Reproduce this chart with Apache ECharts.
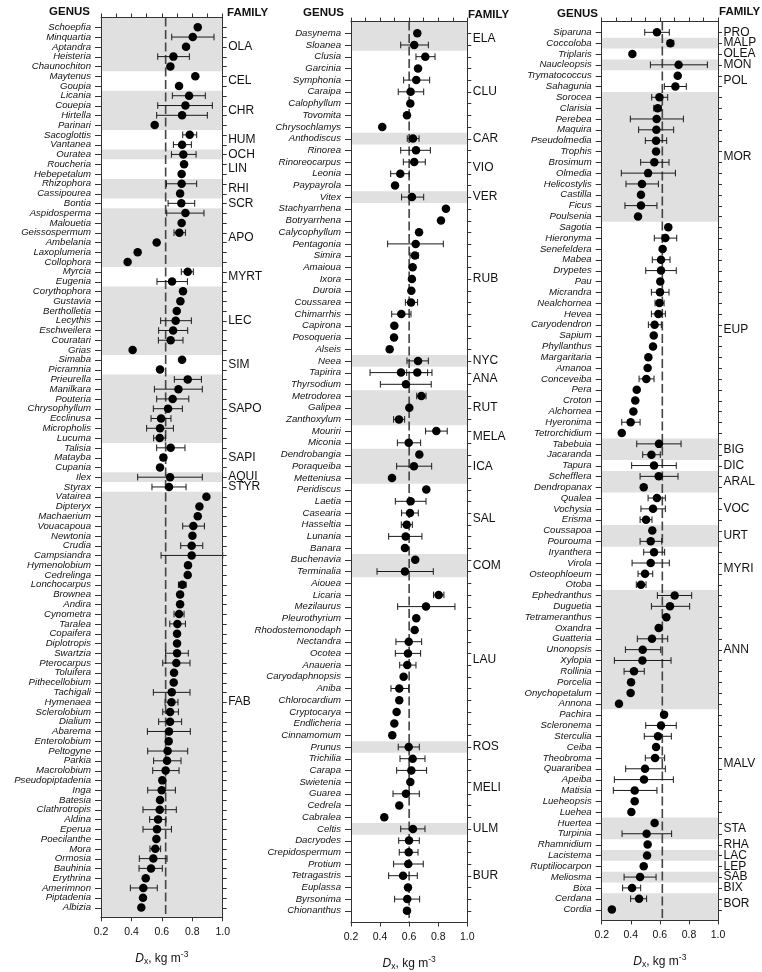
<!DOCTYPE html>
<html><head><meta charset="utf-8">
<script src="https://cdn.jsdelivr.net/npm/echarts/dist/echarts.min.js"></script>
<style>html,body{margin:0;padding:0;background:#fff}#c{width:762px;height:972px}</style>
</head><body><div id="c"></div>
<script>
// ---------------- Panel 1 ----------------
const genus1 = ['Schoepfia','Minquartia','Aptandra','Heisteria','Chaunochiton','Maytenus','Goupia','Licania','Couepia','Hirtella',
'Parinari','Sacoglottis','Vantanea','Ouratea','Roucheria','Hebepetalum','Rhizophora','Cassipourea','Bontia','Aspidosperma',
'Malouetia','Geissospermum','Ambelania','Laxoplumeria','Collophora','Myrcia','Eugenia','Corythophora','Gustavia','Bertholletia',
'Lecythis','Eschweilera','Couratari','Grias','Simaba','Picramnia','Prieurella','Manilkara','Pouteria','Chrysophyllum',
'Ecclinusa','Micropholis','Lucuma','Talisia','Matayba','Cupania','Ilex','Styrax','Vatairea','Dipteryx',
'Machaerium','Vouacapoua','Newtonia','Crudia','Campsiandra','Hymenolobium','Cedrelinga','Lonchocarpus','Brownea','Andira',
'Cynometra','Taralea','Copaifera','Diplotropis','Swartzia','Pterocarpus','Toluifera','Pithecellobium','Tachigali','Hymenaea',
'Sclerolobium','Dialium','Abarema','Enterolobium','Peltogyne','Parkia','Macrolobium','Pseudopiptadenia','Inga','Batesia',
'Clathrotropis','Aldina','Eperua','Poecilanthe','Mora','Ormosia','Bauhinia','Erythrina','Amerimnon','Piptadenia','Albizia'];
const dx1 = [0.836,0.803,0.759,0.676,0.656,0.820,0.713,0.779,0.755,0.733,
0.553,0.783,0.733,0.741,0.746,0.730,0.730,0.720,0.728,0.755,
0.730,0.715,0.566,0.441,0.375,0.770,0.667,0.739,0.722,0.698,
0.691,0.674,0.658,0.408,0.733,0.588,0.770,0.709,0.671,0.641,
0.595,0.588,0.586,0.658,0.610,0.588,0.654,0.647,0.893,0.847,
0.836,0.807,0.801,0.796,0.796,0.772,0.770,0.735,0.720,0.720,
0.713,0.702,0.700,0.700,0.700,0.695,0.680,0.678,0.665,0.663,
0.654,0.654,0.647,0.645,0.638,0.634,0.625,0.603,0.599,0.588,
0.586,0.575,0.568,0.564,0.557,0.544,0.529,0.494,0.478,0.476,0.465];
const lo1 = [null,0.665,null,0.573,null,null,null,0.669,0.573,0.566,
null,0.737,0.676,0.663,null,null,0.630,null,0.641,0.632,
null,0.680,null,null,null,0.728,0.568,null,null,null,
0.592,0.579,0.577,null,null,null,0.682,0.551,0.566,0.544,
0.529,0.500,0.546,0.566,0.592,null,0.441,0.535,null,null,
null,0.737,null,0.724,0.595,null,null,0.709,null,null,
0.680,0.652,null,null,0.625,0.606,null,null,0.544,0.621,
0.606,0.579,0.505,null,0.507,0.546,0.540,null,0.507,null,
0.476,0.520,0.476,null,0.522,0.452,0.450,null,0.393,null,null];
const hi1 = [null,0.943,null,0.781,null,null,null,0.886,0.932,0.899,
null,0.829,0.794,0.825,null,null,0.829,null,0.816,0.877,
null,0.755,null,null,null,0.807,0.768,null,null,null,
0.794,0.770,0.739,null,null,null,0.860,0.866,0.777,0.735,
0.660,0.676,0.623,0.752,0.627,null,0.866,0.759,null,null,
null,0.880,null,0.869,1.0,null,null,0.759,null,null,
0.746,0.755,null,null,0.774,0.785,null,null,0.785,0.706,
0.709,0.730,0.787,null,0.770,0.726,0.713,null,0.689,null,
0.695,0.627,0.663,null,0.592,0.634,0.603,null,0.570,null,null];
const fam1 = ['OLA','CEL','CHR','HUM','OCH','LIN','RHI','SCR','APO','MYRT','LEC','SIM','SAPO','SAPI','AQUI','STYR','FAB'];
const famSize1 = [5,2,4,2,1,2,2,1,6,2,7,2,7,3,1,1,43];

// ---------------- Panel 2 ----------------
const genus2 = ['Dasynema','Sloanea','Clusia','Garcinia','Symphonia','Caraipa','Calophyllum','Tovomita','Chrysochlamys','Anthodiscus',
'Rinorea','Rinoreocarpus','Leonia','Paypayrola','Vitex','Stachyarrhena','Botryarrhena','Calycophyllum','Pentagonia','Simira',
'Amaioua','Ixora','Duroia','Coussarea','Chimarrhis','Capirona','Posoqueria','Alseis','Neea','Tapirira',
'Thyrsodium','Metrodorea','Galipea','Zanthoxylum','Mouriri','Miconia','Dendrobangia','Poraqueiba','Metteniusa','Peridiscus',
'Laetia','Casearia','Hasseltia','Lunania','Banara','Buchenavia','Terminalia','Aiouea','Licaria','Mezilaurus',
'Pleurothyrium','Rhodostemonodaph','Nectandra','Ocotea','Anaueria','Caryodaphnopsis','Aniba','Chlorocardium','Cryptocarya','Endlicheria',
'Cinnamomum','Prunus','Trichilia','Carapa','Swietenia','Guarea','Cedrela','Cabralea','Celtis','Dacryodes',
'Crepidospermum','Protium','Tetragastris','Euplassa','Byrsonima','Chionanthus'];
const dx2 = [0.656,0.635,0.711,0.661,0.649,0.610,0.608,0.585,0.415,0.626,
0.647,0.635,0.539,0.503,0.619,0.853,0.819,0.668,0.645,0.640,
0.624,0.619,0.615,0.613,0.546,0.498,0.496,0.466,0.661,0.544,
0.578,0.684,0.601,0.530,0.787,0.597,0.670,0.633,0.482,0.718,
0.610,0.606,0.583,0.576,0.571,0.642,0.571,null,0.803,0.716,
0.649,0.638,0.597,0.592,0.587,0.562,0.532,0.532,0.514,0.498,
0.484,0.597,0.624,0.615,0.608,0.578,0.532,0.429,0.626,0.599,
0.597,0.594,0.558,0.592,0.587,0.585];
const lo2 = [null,0.542,0.647,null,0.562,0.525,null,null,null,0.587,
0.542,0.560,0.473,null,0.548,null,null,null,0.452,0.606,
null,null,null,0.574,0.480,null,null,null,0.585,0.331,
0.402,0.652,null,0.493,0.713,0.519,null,0.514,null,null,
0.505,0.548,0.546,0.459,null,null,0.379,null,0.768,0.521,
null,null,0.509,0.505,0.535,null,0.475,null,null,null,
null,0.525,0.537,0.514,null,0.489,null,null,0.542,0.528,
0.532,0.493,0.459,null,0.500,null];
const hi2 = [null,0.732,0.778,null,0.741,0.700,null,null,null,0.668,
0.746,0.711,0.601,null,0.700,null,null,null,0.835,0.663,
null,null,null,0.658,0.613,null,null,null,0.732,0.757,
0.752,0.716,null,0.569,0.862,0.679,null,0.755,null,null,
0.716,0.663,0.622,0.688,null,null,0.766,null,0.839,0.915,
null,null,0.686,0.679,0.647,null,0.597,null,null,null,
null,0.670,0.709,0.720,null,0.670,null,null,0.709,0.670,
0.661,0.697,0.656,null,0.672,null];
// second estimate plotted on the Tapirira row
const extraGenus2 = ['Tapirira'];
const extraDx2 = [0.656];
const extraLo2 = [0.583];
const extraHi2 = [0.727];
const fam2 = ['ELA','CLU','CAR','VIO','VER','RUB','NYC','ANA','RUT','MELA','ICA','SAL','COM','LAU','ROS','MELI','ULM','BUR'];
const famSize2 = [2,7,1,4,1,13,1,2,3,2,3,6,2,14,1,6,1,7];

// ---------------- Panel 3 ----------------
const genus3 = ['Siparuna','Coccoloba','Triplaris','Naucleopsis','Trymatococcus','Sahagunia','Sorocea','Clarisia','Perebea','Maquira',
'Pseudolmedia','Trophis','Brosimum','Olmedia','Helicostylis','Castilla','Ficus','Poulsenia','Sagotia','Hieronyma',
'Senefeldera','Mabea','Drypetes','Pau','Micrandra','Nealchornea','Hevea','Caryodendron','Sapium','Phyllanthus',
'Margaritaria','Amanoa','Conceveiba','Pera','Croton','Alchornea','Hyeronima','Tetrorchidium','Tabebuia','Jacaranda',
'Tapura','Schefflera','Dendropanax','Qualea','Vochysia','Erisma','Coussapoa','Pourouma','Iryanthera','Virola',
'Osteophloeum','Otoba','Ephedranthus','Duguetia','Tetrameranthus','Oxandra','Guatteria','Unonopsis','Xylopia','Rollinia',
'Porcelia','Onychopetalum','Annona','Pachira','Scleronema','Sterculia','Ceiba','Theobroma','Quararibea','Apeiba',
'Matisia','Lueheopsis','Luehea','Huertea','Turpinia','Rhamnidium','Lacistema','Ruptiliocarpon','Meliosma','Bixa',
'Cerdana','Cordia'];
const dx3 = [0.580,0.672,0.411,0.729,0.723,0.707,0.597,0.585,0.578,0.576,
0.574,0.574,0.562,0.519,0.477,0.470,0.470,0.450,0.658,0.638,
0.619,0.608,0.608,0.603,0.601,0.597,0.590,0.564,0.558,0.553,
0.521,0.516,0.507,0.441,0.431,0.418,0.399,0.338,0.594,0.542,
0.560,0.592,0.489,0.580,0.553,0.505,0.548,0.537,0.560,0.537,
0.498,0.470,0.702,0.670,0.645,0.592,0.546,0.482,0.480,0.422,
0.402,0.399,0.319,0.629,0.608,0.587,0.574,0.567,0.498,0.491,
0.427,0.427,0.404,0.564,0.509,0.516,0.512,0.489,0.464,0.409,
0.457,0.270];
const lo3 = [0.496,0.652,null,0.535,null,0.631,0.544,0.558,0.397,0.454,
0.500,null,0.468,0.335,0.367,null,0.360,null,null,0.562,
null,0.548,0.503,null,0.542,0.567,0.542,0.521,null,null,
null,null,0.457,null,null,null,0.338,null,0.441,0.482,
0.406,0.464,null,0.519,0.470,0.464,null,0.464,0.489,0.409,
0.450,0.438,0.583,0.542,null,0.578,0.445,0.363,0.287,0.354,
null,null,null,null,0.503,0.493,null,0.500,0.365,0.287,
0.280,null,null,null,0.340,null,null,null,0.354,0.344,
0.399,null];
const hi3 = [0.665,0.695,null,0.927,null,0.782,0.654,0.610,0.762,0.695,
0.647,null,0.663,0.707,0.590,null,0.580,null,null,0.716,
null,0.670,0.713,null,0.663,0.629,0.638,0.610,null,null,
null,null,0.560,null,null,null,0.464,null,0.746,0.603,
0.713,0.725,null,0.638,0.638,0.546,null,0.613,0.633,0.665,
0.551,0.505,0.819,0.805,null,0.610,0.654,0.606,0.677,0.493,
null,null,null,null,0.713,0.679,null,0.633,0.638,0.693,
0.580,null,null,null,0.681,null,null,null,0.574,0.468,
0.509,null];
const fam3 = ['PRO','MALP','OLEA','MON','POL','MOR','EUP','BIG','DIC','ARAL','VOC','URT','MYRI','ANN','MALV','STA','RHA','LAC','LEP','SAB','BIX','BOR'];
const famSize3 = [1,1,1,1,2,12,20,2,1,2,3,2,4,11,10,2,1,1,1,1,1,2];

// overall mean density (dashed line) per panel
const refLine = [0.625, 0.600, 0.617];
const xTicks = [0.2, 0.4, 0.6, 0.8, 1.0];

// ---------------- layout / styling ----------------
const FONT = '"Liberation Sans", Arial, Helvetica, sans-serif';
const INK = '#111';
const FRAME = '#333';
const SHADE = '#e0e0e0';

const panels = [
  {genus: genus1, dx: dx1, lo: lo1, hi: hi1, fam: fam1, famSize: famSize1, firstShaded: true, extra: null,
   box: {left: 101, top: 17.5, width: 121.7, height: 899.8}, genusHdr: [90, 11.7], famHdr: [227, 13.3]},
  {genus: genus2, dx: dx2, lo: lo2, hi: hi2, fam: fam2, famSize: famSize2, firstShaded: true,
   extra: {genus: extraGenus2, dx: extraDx2, lo: extraLo2, hi: extraHi2},
   box: {left: 351, top: 21.6, width: 116.3, height: 900.9}, genusHdr: [344, 12.7], famHdr: [468, 15]},
  {genus: genus3, dx: dx3, lo: lo3, hi: hi3, fam: fam3, famSize: famSize3, firstShaded: false, extra: null,
   box: {left: 601.7, top: 21.5, width: 116.3, height: 898.9}, genusHdr: [598, 14.3], famHdr: [719, 11.7]}
];

const XMIN = 0.2, XMAX = 1.0;

const grid = [], xAxis = [], yAxis = [], series = [], graphics = [];

panels.forEach((p, i) => {
  const N = p.genus.length;
  grid.push(Object.assign({containLabel: false, outerBoundsMode: 'none'}, p.box));

  xAxis.push({
    type: 'value', gridIndex: i, position: 'bottom', min: XMIN, max: XMAX, interval: 0.2, z: 10,
    axisLine: {show: true, onZero: false, lineStyle: {color: FRAME, width: 1}},
    axisTick: {show: true, length: 4, lineStyle: {color: FRAME}},
    axisLabel: {show: true, color: INK, fontSize: 10.5, fontFamily: FONT, margin: 9,
      formatter: v => (xTicks.some(t => Math.abs(t - v) < 1e-6) ? v.toFixed(1) : '')},
    splitLine: {show: false},
    name: '{i|D}{s|x}{n|, kg m}{p|-3}', nameLocation: 'middle', nameGap: 33,
    nameTextStyle: {rich: {
      i: {fontStyle: 'italic', fontSize: 12, color: INK, fontFamily: FONT, lineHeight: 16},
      n: {fontSize: 12, color: INK, fontFamily: FONT, lineHeight: 16},
      s: {fontSize: 8.5, color: INK, fontFamily: FONT, lineHeight: 8, verticalAlign: 'bottom'},
      p: {fontSize: 8.5, color: INK, fontFamily: FONT, lineHeight: 8, verticalAlign: 'top'}
    }}
  });
  xAxis.push({
    type: 'value', gridIndex: i, position: 'top', min: XMIN, max: XMAX, interval: 0.1, z: 10,
    axisLine: {show: true, onZero: false, lineStyle: {color: FRAME, width: 1}},
    axisTick: {show: true, length: 4, lineStyle: {color: FRAME}},
    axisLabel: {show: false}, splitLine: {show: false}
  });

  yAxis.push({
    type: 'value', gridIndex: i, position: 'left', inverse: true, min: -1, max: N, interval: 1, z: 10,
    axisLine: {show: true, onZero: false, lineStyle: {color: FRAME, width: 1}},
    axisTick: {show: false}, splitLine: {show: false},
    axisLabel: {show: true, color: INK, fontSize: 9.6, fontStyle: 'italic', fontFamily: FONT, margin: 10,
      formatter: v => { const k = Math.round(v); return (k >= 0 && k < N) ? p.genus[k] : ''; }}
  });
  yAxis.push({
    type: 'value', gridIndex: i, position: 'right', inverse: true, min: -1, max: N, interval: 1, z: 10,
    axisLine: {show: true, onZero: false, lineStyle: {color: FRAME, width: 1}},
    axisTick: {show: false}, axisLabel: {show: false}, splitLine: {show: false}
  });

  const xi = 2 * i, yi = 2 * i;
  const starts = [];
  let acc = 0;
  p.famSize.forEach(s => { starts.push(acc); acc += s; });
  const lastFam = p.fam.length - 1;

  series.push({
    type: 'custom', xAxisIndex: xi, yAxisIndex: yi, z: 1, clip: false, silent: true,
    data: p.fam.map((f, j) => [XMIN, j]),
    renderItem: (params, api) => {
      const j = api.value(1);
      const s = starts[j], e = starts[j] + p.famSize[j] - 1;
      const yA = api.coord([XMIN, j === 0 ? -1 : s - 0.5])[1];
      const yB = api.coord([XMIN, j === lastFam ? N : e + 0.5])[1];
      const xL = api.coord([XMIN, 0])[0], xR = api.coord([XMAX, 0])[0];
      const yc = (api.coord([XMIN, s])[1] + api.coord([XMIN, e])[1]) / 2;
      const shaded = ((j % 2) === 0) === p.firstShaded;
      const children = [];
      if (shaded) children.push({type: 'rect', shape: {x: xL, y: Math.min(yA, yB), width: xR - xL, height: Math.abs(yB - yA)},
        style: {fill: SHADE}});
      children.push({type: 'text', style: {text: p.fam[j], x: xR + 5.5, y: yc, align: 'left', verticalAlign: 'middle',
        fontSize: 12, fontFamily: FONT, fill: INK}});
      return {type: 'group', children};
    }
  });

  series.push({
    type: 'custom', xAxisIndex: xi, yAxisIndex: yi, z: 2, clip: false, silent: true,
    data: p.genus.map((g, r) => [XMIN, r]),
    renderItem: (params, api) => {
      const r = api.value(1);
      const a = api.coord([XMIN, r]), b = api.coord([XMAX, r]);
      const y = Math.round(a[1]) + 0.5;
      return {type: 'group', children: [
        {type: 'line', shape: {x1: a[0] - 6, y1: y, x2: a[0], y2: y}, style: {stroke: FRAME, lineWidth: 1}},
        {type: 'line', shape: {x1: b[0], y1: y, x2: b[0] + 4, y2: y}, style: {stroke: FRAME, lineWidth: 1}}
      ]};
    }
  });

  series.push({
    type: 'custom', xAxisIndex: xi, yAxisIndex: yi, z: 2, clip: false, silent: true,
    data: [[refLine[i], -1, N]],
    renderItem: (params, api) => {
      const a = api.coord([api.value(0), api.value(1)]);
      const b = api.coord([api.value(0), api.value(2)]);
      return {type: 'line', shape: {x1: a[0], y1: a[1], x2: b[0], y2: b[1]},
        style: {stroke: '#444', lineWidth: 1.6, lineDash: [9, 3.5]}};
    }
  });

  const eb = [];
  p.genus.forEach((g, r) => { if (p.lo[r] != null && p.hi[r] != null) eb.push([p.lo[r], r, p.hi[r]]); });
  const dots = [];
  p.genus.forEach((g, r) => { if (p.dx[r] != null) dots.push([p.dx[r], r]); });
  if (p.extra) {
    p.extra.genus.forEach((g, k) => {
      const r = p.genus.indexOf(g);
      eb.push([p.extra.lo[k], r, p.extra.hi[k]]);
      dots.push([p.extra.dx[k], r]);
    });
  }
  series.push({
    type: 'custom', xAxisIndex: xi, yAxisIndex: yi, z: 3, clip: false, silent: true,
    data: eb,
    renderItem: (params, api) => {
      const a = api.coord([api.value(0), api.value(1)]);
      const b = api.coord([api.value(2), api.value(1)]);
      const y = a[1], h = 3.3;
      const st = {stroke: '#1a1a1a', lineWidth: 1};
      return {type: 'group', children: [
        {type: 'line', shape: {x1: a[0], y1: y, x2: b[0], y2: y}, style: st},
        {type: 'line', shape: {x1: a[0], y1: y - h, x2: a[0], y2: y + h}, style: st},
        {type: 'line', shape: {x1: b[0], y1: y - h, x2: b[0], y2: y + h}, style: st}
      ]};
    }
  });

  series.push({
    type: 'scatter', xAxisIndex: xi, yAxisIndex: yi, z: 4, clip: false, silent: true,
    symbol: 'circle', symbolSize: 8.5, itemStyle: {color: '#000', opacity: 1},
    data: dots
  });

  graphics.push({type: 'text', x: p.genusHdr[0], y: p.genusHdr[1],
    style: {text: 'GENUS', align: 'right', verticalAlign: 'middle', font: 'bold 11.5px ' + FONT, fill: INK}});
  graphics.push({type: 'text', x: p.famHdr[0], y: p.famHdr[1],
    style: {text: 'FAMILY', align: 'left', verticalAlign: 'middle', font: 'bold 11.5px ' + FONT, fill: INK}});
});

const chart = echarts.init(document.getElementById('c'), null, {renderer: 'canvas', width: 762, height: 972});
chart.setOption({
  animation: false,
  backgroundColor: '#fff',
  textStyle: {fontFamily: FONT},
  grid, xAxis, yAxis, series,
  graphic: graphics
});
</script></body></html>
